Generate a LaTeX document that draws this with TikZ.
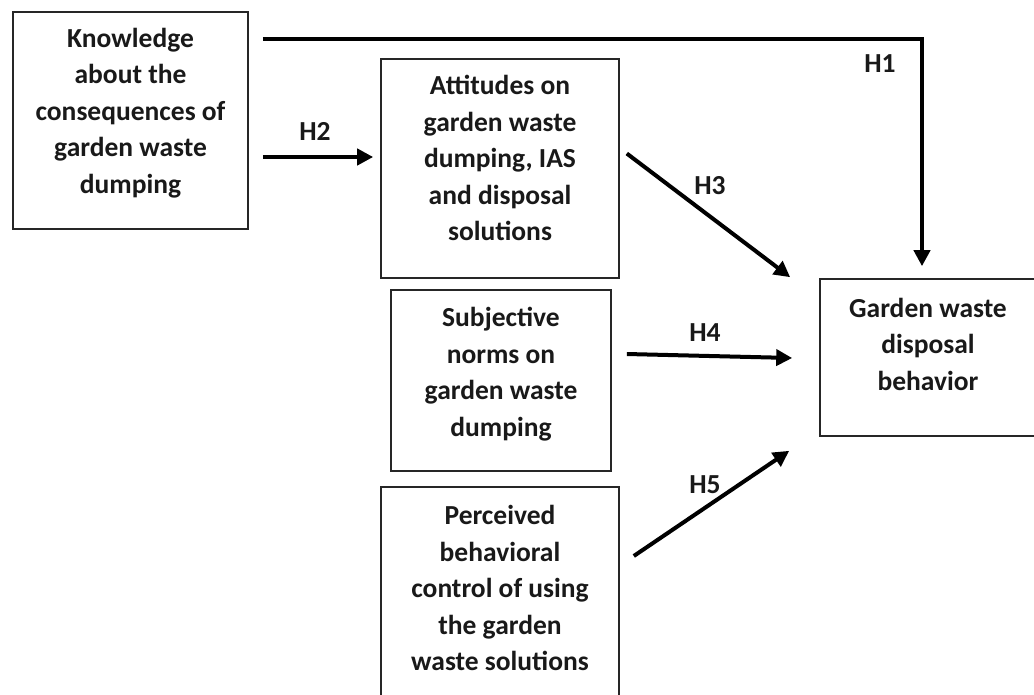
\documentclass[tikz,border=0pt]{standalone}
\usepackage{fontspec}
\setmainfont{Carlito}
\usetikzlibrary{arrows.meta,calc}
\begin{document}
\begin{tikzpicture}[x=1pt,y=-1pt,
  box/.style={draw=black!85,line width=1.6pt,rectangle,inner sep=0pt},
  txt/.style={align=center,font=\fontsize{27.5}{36.5}\selectfont\bfseries,text=black!90,inner sep=0pt},
  lab/.style={font=\fontsize{27.5}{30}\selectfont\bfseries,text=black!90,inner sep=0pt},
  arr/.style={line width=4pt,-{Triangle[length=16pt,width=16pt]},black}]
\clip (0,0) rectangle (1034,694);
\fill[white] (0,0) rectangle (1034,694);
% boxes
\node[box,minimum width=235,minimum height=217] (K) at (130.5,120.5) {};
\node[box,minimum width=238,minimum height=219] (A) at (500,168.5) {};
\node[box,minimum width=220,minimum height=181] (S) at (501,380.5) {};
\node[box,minimum width=238,minimum height=240] (P) at (500,607) {};
\node[box,minimum width=216,minimum height=157] (G) at (928,357.5) {};
% texts
\node[txt] (Kt) at (130.5,113) {Knowledge\\about the\\consequences of\\garden waste\\dumping};
\node[txt] (At) at (500,158) {Attitudes on\\garden waste\\dumping, IAS\\and disposal\\solutions};
\node[txt] (St) at (501,374) {Subjective\\norms on\\garden waste\\dumping};
\node[txt] (Pt) at (500,588) {Perceived\\behavioral\\control of using\\the garden\\waste solutions};
\node[txt] (Gt) at (928,344) {Garden waste\\disposal\\behavior};
% connector end points
\coordinate (h1s) at ($(K.north east)+(14,28)$);
\coordinate (h1e) at ($(G.north)+(-6,-12)$);
\coordinate (h2s) at ($(K.east)+(14,36.5)$);
\coordinate (h2e) at ($(A.west)+(-7,-11.5)$);
\coordinate (h3s) at ($(A.east)+(7,-15)$);
\coordinate (h3e) at ($(G.north west)+(-29,-1)$);
\coordinate (h4s) at ($(S.east)+(15,-26.5)$);
\coordinate (h4e) at ($(G.west)+(-27,0.5)$);
\coordinate (h5s) at ($(P.east)+(14,-51)$);
\coordinate (h5e) at ($(G.south west)+(-30,14)$);
% connectors
\draw[arr] (h1s) -| (h1e);
\draw[arr] (h2s) -- (h2e);
\draw[arr] (h3s) -- (h3e);
\draw[arr] (h4s) -- (h4e);
\draw[arr] (h5s) -- (h5e);
% labels
\node[lab] (L1) at (880,64) {H1};
\node[lab] (L2) at (315,131) {H2};
\node[lab] (L3) at (710,186) {H3};
\node[lab] (L4) at (705,333) {H4};
\node[lab] (L5) at (705,485) {H5};
\end{tikzpicture}
\end{document}
